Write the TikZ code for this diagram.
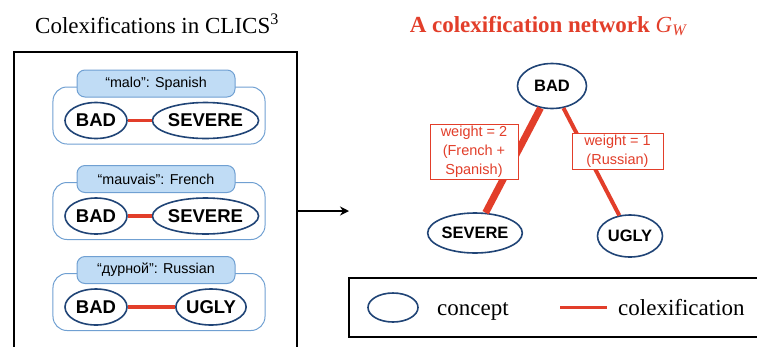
\documentclass[tikz,border=0pt]{standalone}
\usepackage{fontspec}
\setmainfont{Liberation Serif}
\setsansfont{Liberation Sans}
\usetikzlibrary{shapes.geometric,arrows.meta}

\definecolor{conceptblue}{RGB}{32,68,118}
\definecolor{grpblue}{RGB}{112,160,210}
\definecolor{tabfill}{RGB}{192,220,245}
\definecolor{colexred}{RGB}{226,62,42}

\tikzset{
  concept/.style={ellipse, draw=conceptblue, line width=1.6bp, fill=white, inner sep=0pt,
    minimum height=36bp, font=\sffamily\bfseries\fontsize{18.5bp}{20bp}\selectfont},
  netconcept/.style={concept, font=\sffamily\bfseries\fontsize{16.5bp}{18bp}\selectfont},
  grpframe/.style={draw=grpblue, line width=1bp, rounded corners=14bp, inner sep=0pt,
    minimum width=212bp, minimum height=57bp},
  wordtab/.style={draw=grpblue, fill=tabfill, line width=1bp, rounded corners=8bp, inner sep=0pt,
    minimum width=158bp, minimum height=27bp, font=\sffamily\fontsize{14.3bp}{16bp}\selectfont},
  colex/.style={draw=colexred, line width=3.5bp},
  weightbox/.style={draw=colexred, fill=white, line width=0.8bp, text=colexred, align=center,
    inner sep=0pt, font=\sffamily\fontsize{14.5bp}{19bp}\selectfont},
  titletext/.style={font=\fontsize{23bp}{27bp}\selectfont},
}

\begin{document}
\begin{tikzpicture}[x=1bp, y=-1bp]
  \useasboundingbox (0,0) rectangle (757,346);

  % left part: the colexifications
  \node[titletext, anchor=base] (lefttitle) at (157,33) {Colexifications in CLICS\textsuperscript{3}};
  \node[draw, line width=2.2bp, inner sep=0pt, minimum width=283bp, minimum height=300bp] (clics) at (155.5,202) {};

  \foreach \ty/\word/\lang/\other/\ox/\ow [count=\i] in
      {83.5/malo/Spanish/SEVERE/205.5/89, 179/mauvais/French/SEVERE/205.5/89, 270/дурной/Russian/UGLY/211/68}
  {
    \node[grpframe] (grp\i) at (159,\ty+32) {};
    \node[wordtab] (tab\i) at (156,\ty) {“\word”: \lang};
    \node[concept, minimum width=62bp] (bad\i) at (96,\ty+37) {BAD};
    \node[concept, minimum width=\ow bp] (oth\i) at (\ox,\ty+37) {\other};
    \draw[colex] (bad\i) -- (oth\i);
  }

  % arrow to the network
  \coordinate (arrtip) at (349,211);
  \draw[-{Stealth[length=9bp,width=9bp]}, line width=2bp] (clics.east |- arrtip) -- (arrtip);

  % right part: the network
  \node[anchor=base, text=colexred, font={\fontsize{23bp}{27bp}\selectfont\bfseries}] (righttitle) at (548,32)
    {A colexification network {\mdseries\itshape G\textsubscript{W}}};
  \node[netconcept, minimum width=69bp, minimum height=45bp] (nbad) at (552,86) {BAD};
  \node[netconcept, minimum width=85bp, minimum height=40bp] (nsevere) at (475,233) {SEVERE};
  \node[netconcept, minimum width=65bp, minimum height=42bp] (nugly) at (630,236) {UGLY};
  \draw[colex, line width=7bp] (nbad) -- (nsevere);
  \draw[colex, line width=4bp] (nbad) -- (nugly);
  \node[weightbox, minimum width=88bp, minimum height=55bp] (w2) at (474,151.5)
    {weight = 2\\(French +\\Spanish)};
  \node[weightbox, minimum width=91bp, minimum height=36bp] (w1) at (617.5,151)
    {weight = 1\\(Russian)};

  % legend
  \node[draw, line width=1.8bp, inner sep=0pt, minimum width=421bp, minimum height=59bp] (legend) at (559.5,307.5) {};
  \node[concept, minimum width=50bp, minimum height=29bp] (legconcept) at (393,307.5) {};
  \node[titletext, anchor=base west, inner sep=0pt] (legctext) at (437,315) {concept};
  \coordinate (lega) at (560,307);
  \coordinate (legb) at (607,307);
  \draw[colex, line width=3bp] (lega) -- (legb);
  \node[titletext, anchor=base west, inner sep=0pt] (legxtext) at (618,315) {colexification};
\end{tikzpicture}
\end{document}
